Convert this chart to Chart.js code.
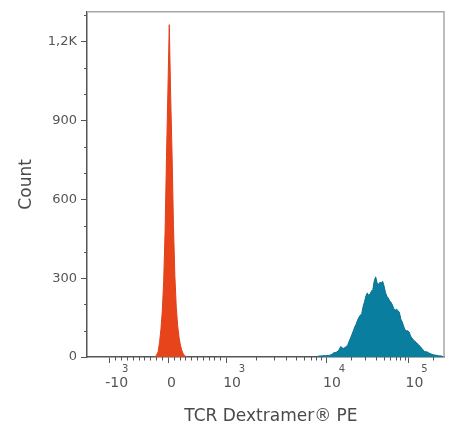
<!DOCTYPE html>
<html>
<head>
<meta charset="utf-8">
<script src="https://cdn.jsdelivr.net/npm/chart.js@4.4.1/dist/chart.umd.min.js"></script>
<style>
  html, body { margin: 0; padding: 0; background: #fff; }
  #wrap { width: 452px; height: 429px; }
</style>
</head>
<body>
<div id="wrap"><canvas id="myChart" width="452" height="429"></canvas></div>
<script>
// histogram bins are display channels (0..256) of the biexponential axis
const redStart = 48;
const redCounts = [0, 3, 8, 20, 55, 105, 175, 290, 480, 760, 1010, 1265, 990, 770, 500, 310, 190, 120, 75, 45, 25, 12, 5, 2, 0];

const blueStart = 165;
const blueCounts = [
  0, 3, 4, 4, 5, 5, 5, 6, 6, 7, 8, 12, 16, 17, 19, 22, 30, 40, 34, 33,
  36, 40, 46, 60, 72, 86, 100, 114, 125, 140, 151, 159, 165, 192, 210, 232, 244, 234, 240, 251,
  257, 290, 305, 282, 277, 284, 283, 288, 270, 246, 231, 225, 214, 208, 198, 184, 178, 182, 176, 170,
  145, 134, 118, 104, 100, 100, 95, 80, 72, 66, 60, 56, 50, 45, 40, 33, 27, 21, 20, 19,
  16, 13, 11, 9, 8, 7, 6, 5, 4, 4, 2, 0
];

// axis calibration: value -> display channel
const axisValues = [-1000, 0, 1000, 10000, 100000];
const axisChannels = [15.8, 58.1, 99.7, 171.4, 230.5];

const xTickValues = [-1000, 0, 1000, 10000, 100000];
const xTickBase = ["-10", "0", "10", "10", "10"];
const xTickExp = ["3", "", "3", "4", "5"];
const xMinorValues = [
  -900, -800, -700, -600, -500, -400, -300, -200, -100,
  100, 200, 300, 400, 500, 600, 700, 800, 900,
  2000, 3000, 4000, 5000, 6000, 7000, 8000, 9000,
  20000, 30000, 40000, 50000, 60000, 70000, 80000, 90000, 200000
];

const yTickValues = [0, 300, 600, 900, 1200];
const yTickLabels = ["0", "300", "600", "900", "1,2K"];
const yMinorValues = [100, 200, 400, 500, 700, 800, 1000, 1100, 1300];

function toChannel(v) {
  for (let i = 0; i < axisValues.length - 1; i++) {
    const a = axisValues[i], b = axisValues[i + 1];
    if (v <= b || i === axisValues.length - 2) {
      const t = a >= 1000 ? Math.log10(v / a) / Math.log10(b / a) : (v - a) / (b - a);
      return axisChannels[i] + t * (axisChannels[i + 1] - axisChannels[i]);
    }
  }
}

const redData = redCounts.map((c, i) => ({ x: redStart + i, y: c }));
const blueData = blueCounts.map((c, i) => ({ x: blueStart + i, y: c }));

const FONT = "'DejaVu Sans', sans-serif";
const GREY = "#555";

// frame, minor ticks and x labels with exponents
const axisExtras = {
  id: "axisExtras",
  afterDraw(chart) {
    const { ctx, chartArea: a } = chart;
    const x = chart.scales.x, y = chart.scales.y;
    ctx.save();
    ctx.strokeStyle = "#a8a8a8";
    ctx.lineWidth = 1.5;
    ctx.beginPath();
    ctx.moveTo(a.left, a.top);
    ctx.lineTo(a.right, a.top);
    ctx.lineTo(a.right, a.bottom);
    ctx.stroke();

    ctx.strokeStyle = GREY;
    ctx.lineWidth = 1;
    ctx.beginPath();
    xMinorValues.forEach((v) => {
      const px = Math.round(x.getPixelForValue(toChannel(v))) + 0.5;
      ctx.moveTo(px, a.bottom);
      ctx.lineTo(px, a.bottom + 3.5);
    });
    yMinorValues.forEach((v) => {
      const py = Math.round(y.getPixelForValue(v)) + 0.5;
      ctx.moveTo(a.left - 3, py);
      ctx.lineTo(a.left, py);
    });
    ctx.stroke();

    ctx.fillStyle = GREY;
    ctx.textBaseline = "middle";
    xTickValues.forEach((v, i) => {
      const px = x.getPixelForValue(toChannel(v));
      const base = xTickBase[i], exp = xTickExp[i];
      ctx.font = "14px " + FONT;
      ctx.textAlign = "center";
      const cx = px + (exp ? (base[0] === "-" ? 7.7 : 6) : 3.5);
      ctx.fillText(base, cx, a.bottom + 26);
      if (exp) {
        const w = ctx.measureText(base).width;
        ctx.font = "10px " + FONT;
        const ex = cx + w / 2 + (base[0] === "-" ? -3 : 1);
        ctx.fillText(exp, ex, a.bottom + 12.5);
      }
    });
    ctx.restore();
  },
};

new Chart(document.getElementById("myChart"), {
  type: "line",
  data: {
    datasets: [
      {
        data: redData,
        borderColor: "#e2401a",
        backgroundColor: "#e8441c",
        borderWidth: 1,
        fill: "origin",
        pointRadius: 0,
        tension: 0,
      },
      {
        data: blueData,
        borderColor: "#08708e",
        backgroundColor: "#0a7e9f",
        borderWidth: 1,
        fill: "origin",
        pointRadius: 0,
        tension: 0,
      },
    ],
  },
  options: {
    responsive: false,
    animation: false,
    layout: { padding: { top: 10, right: 8, left: 0, bottom: 0 } },
    plugins: { legend: { display: false }, tooltip: { enabled: false } },
    scales: {
      x: {
        type: "linear",
        min: 0,
        max: 256,
        afterBuildTicks: (scale) => {
          scale.ticks = xTickValues.map((v) => ({ value: toChannel(v) }));
        },
        afterFit: (scale) => { scale.height = 72; },
        ticks: { display: false },
        grid: { drawOnChartArea: false, tickLength: 6, tickColor: GREY, tickWidth: 1 },
        border: { color: GREY, width: 1.5 },
        title: {
          display: true,
          text: "  TCR Dextramer® PE",
          color: "#4a4a4a",
          font: { family: FONT, size: 17 },
          padding: { top: 0, bottom: 2 },
        },
      },
      y: {
        min: 0,
        max: 1314,
        afterBuildTicks: (scale) => {
          scale.ticks = yTickValues.map((v) => ({ value: v }));
        },
        afterFit: (scale) => { scale.width = 87; },
        ticks: {
          autoSkip: false,
          padding: 4,
          color: GREY,
          font: { family: FONT, size: 13 },
          callback: (value, index) => yTickLabels[index],
        },
        grid: { drawOnChartArea: false, tickLength: 6, tickColor: GREY, tickWidth: 1 },
        border: { color: GREY, width: 1.5 },
        title: {
          display: true,
          text: "Count",
          color: "#4a4a4a",
          font: { family: FONT, size: 17 },
          padding: { top: 16, bottom: 0 },
        },
      },
    },
  },
  plugins: [axisExtras],
});
</script>
</body>
</html>
